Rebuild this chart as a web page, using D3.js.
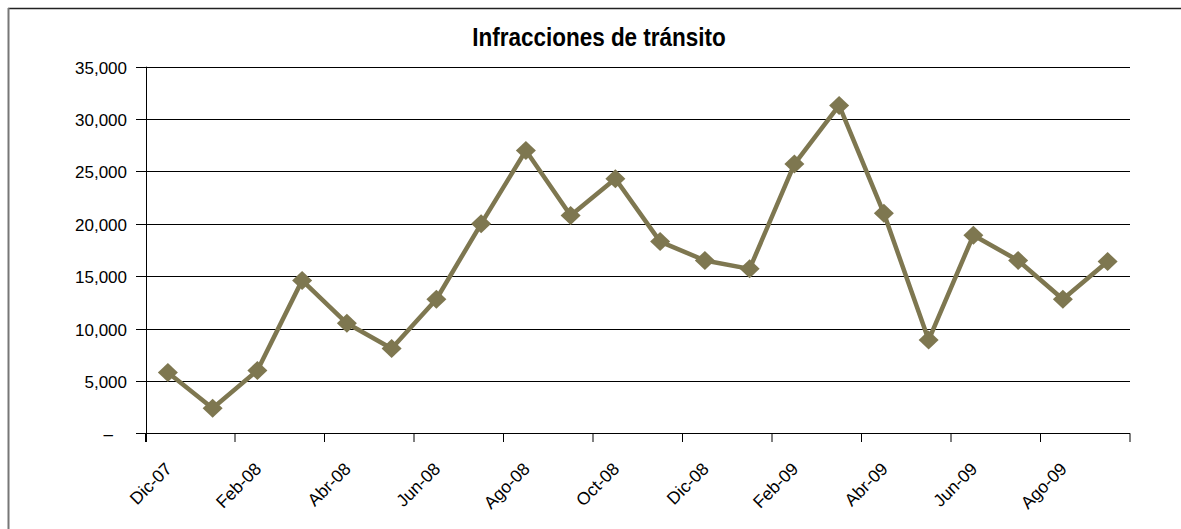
<!DOCTYPE html>
<html>
<head>
<meta charset="utf-8">
<script src="https://cdn.jsdelivr.net/npm/d3@7"></script>
<style>
  html, body { margin: 0; padding: 0; background: #fff; }
  svg { display: block; }
  text { font-family: "Liberation Sans", Arial, sans-serif; fill: #000; }
</style>
</head>
<body>
<svg id="chart" width="1181" height="529"></svg>
<script>
const title = "Infracciones de tránsito";
const months = ["Dic-07","Ene-08","Feb-08","Mar-08","Abr-08","May-08","Jun-08","Jul-08","Ago-08","Sep-08","Oct-08","Nov-08","Dic-08","Ene-09","Feb-09","Mar-09","Abr-09","May-09","Jun-09","Jul-09","Ago-09","Sep-09"];
const values = [5800, 2400, 6000, 14600, 10500, 8100, 12800, 20000, 27000, 20800, 24300, 18300, 16500, 15700, 25700, 31300, 21000, 8900, 18900, 16500, 12800, 16400];
const yTicks = [0, 5000, 10000, 15000, 20000, 25000, 30000, 35000];
const xLabelMonths = ["Dic-07","Feb-08","Abr-08","Jun-08","Ago-08","Oct-08","Dic-08","Feb-09","Abr-09","Jun-09","Ago-09"];

const svg = d3.select("#chart");
const plot = { left: 145.5, right: 1130, top: 66.7, bottom: 433.3 };
const color = "#7e7750";

// frame
svg.append("line").attr("x1", 8).attr("x2", 1181).attr("y1", 8.5).attr("y2", 8.5)
  .attr("stroke", "#222").attr("stroke-width", 1.5);
svg.append("line").attr("x1", 8.5).attr("x2", 8.5).attr("y1", 8).attr("y2", 529)
  .attr("stroke", "#777").attr("stroke-width", 2);

const x = d3.scaleBand().domain(months).range([plot.left, plot.right]).padding(0);
const y = d3.scaleLinear().domain([0, 35000]).range([plot.bottom, plot.top]);

// gridlines + y labels
const fmt = d3.format(",");
const gy = svg.append("g");
yTicks.forEach(t => {
  const yy = Math.round(y(t)) + 0.5;
  gy.append("line").attr("x1", 136).attr("x2", plot.right).attr("y1", yy).attr("y2", yy)
    .attr("stroke", "#000").attr("stroke-width", 1);
  gy.append("text")
    .attr("x", t === 0 ? 113 : 127)
    .attr("y", yy + 6)
    .attr("text-anchor", "end")
    .attr("font-size", 17)
    .text(t === 0 ? "–" : fmt(t));
});

// y axis line
svg.append("line").attr("x1", Math.round(plot.left) + 0.5).attr("x2", Math.round(plot.left) + 0.5)
  .attr("y1", plot.top).attr("y2", 442).attr("stroke", "#000");

// x ticks at every 2 categories
const gx = svg.append("g");
const tickPos = months.filter((m, i) => i % 2 === 0).map(m => x(m)).concat([plot.right]);
tickPos.forEach(p => {
  gx.append("line").attr("x1", p).attr("x2", p).attr("y1", plot.bottom).attr("y2", 442)
    .attr("stroke", "#000");
});
xLabelMonths.forEach(m => {
  const cx = x(m) + x.bandwidth() / 2;
  gx.append("text")
    .attr("transform", `translate(${cx + 5},${470}) rotate(-45)`)
    .attr("text-anchor", "end")
    .attr("font-size", 17.5)
    .text(m);
});

// line
const line = d3.line()
  .x((d, i) => x(months[i]) + x.bandwidth() / 2)
  .y(d => y(d));
svg.append("path").datum(values).attr("d", line)
  .attr("fill", "none").attr("stroke", color).attr("stroke-width", 4.5)
  .attr("stroke-linejoin", "round");

// diamond markers
svg.append("g").selectAll("path").data(values).join("path")
  .attr("transform", (d, i) => `translate(${x(months[i]) + x.bandwidth() / 2},${y(d)})`)
  .attr("d", "M0,-9.5L10,0L0,9.5L-10,0Z")
  .attr("fill", color);

// title (condensed bold, like Arial Narrow)
svg.append("text")
  .attr("transform", "translate(599,46) scale(0.9,1)")
  .attr("text-anchor", "middle")
  .attr("font-weight", "bold")
  .attr("font-size", 25)
  .text(title);
</script>
</body>
</html>
